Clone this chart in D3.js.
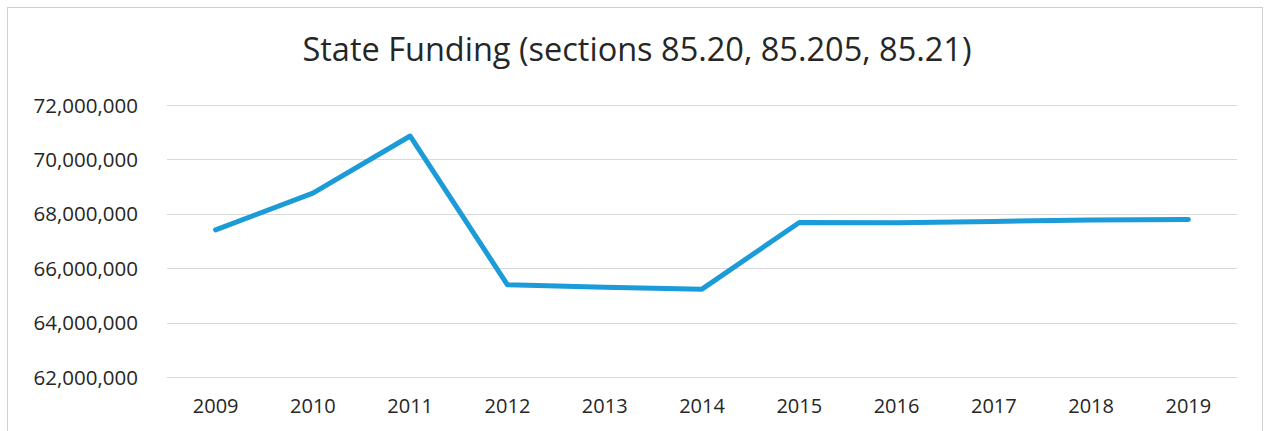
<!DOCTYPE html>
<html>
<head>
<meta charset="utf-8">
<script src="https://cdn.jsdelivr.net/npm/d3@7"></script>
<style>
  body { margin: 0; background: #fff; }
  svg text { font-family: "Open Sans", "Noto Sans", sans-serif; fill: #262626; }
</style>
</head>
<body>
<div id="chart"></div>
<script>
// values
const years = ["2009", "2010", "2011", "2012", "2013", "2014", "2015", "2016", "2017", "2018", "2019"];
const funding = [67410000, 68760000, 70860000, 65390000, 65300000, 65230000, 67680000, 67670000, 67720000, 67770000, 67790000];
const yTicks = [62000000, 64000000, 66000000, 68000000, 70000000, 72000000];
const title = "State Funding (sections 85.20, 85.205, 85.21)";

const width = 1266, height = 431;
const margin = {top: 105, right: 29, bottom: 54, left: 167};

const svg = d3.select("#chart").append("svg")
    .attr("width", width)
    .attr("height", height);

// chart frame
svg.append("rect")
    .attr("x", 7.5).attr("y", 7.5)
    .attr("width", 1255).attr("height", 440)
    .attr("fill", "none")
    .attr("stroke", "#d0d0d0");

svg.append("text")
    .attr("x", 637)
    .attr("y", 61)
    .attr("text-anchor", "middle")
    .style("font-size", "32.5px")
    .text(title);

const x = d3.scaleBand()
    .domain(years)
    .range([margin.left, width - margin.right]);

const y = d3.scaleLinear()
    .domain([62000000, 72000000])
    .range([height - margin.bottom, margin.top]);

// gridlines
svg.append("g")
    .selectAll("line")
    .data(yTicks)
    .join("line")
    .attr("x1", margin.left)
    .attr("x2", width - margin.right)
    .attr("y1", d => Math.round(y(d)) + 0.5)
    .attr("y2", d => Math.round(y(d)) + 0.5)
    .attr("stroke", "#d9d9d9")
    .attr("stroke-width", 1);

const yAxis = svg.append("g")
    .attr("transform", "translate(" + (margin.left - 29) + ",0)")
    .call(d3.axisLeft(y).tickValues(yTicks).tickSize(0).tickPadding(0).tickFormat(d3.format(",")));
yAxis.select(".domain").remove();
yAxis.selectAll("text").style("font-size", "20.5px").attr("dy", "0.35em");

const xAxis = svg.append("g")
    .attr("transform", "translate(0," + (height - margin.bottom) + ")")
    .call(d3.axisBottom(x).tickSize(0).tickPadding(22));
xAxis.select(".domain").remove();
xAxis.selectAll("text").style("font-size", "20px");

const line = d3.line()
    .x((d, i) => x(years[i]) + x.bandwidth() / 2)
    .y(d => y(d));

svg.append("path")
    .datum(funding)
    .attr("d", line)
    .attr("fill", "none")
    .attr("stroke", "#1b9bd7")
    .attr("stroke-width", 5)
    .attr("stroke-linejoin", "round")
    .attr("stroke-linecap", "round");
</script>
</body>
</html>
